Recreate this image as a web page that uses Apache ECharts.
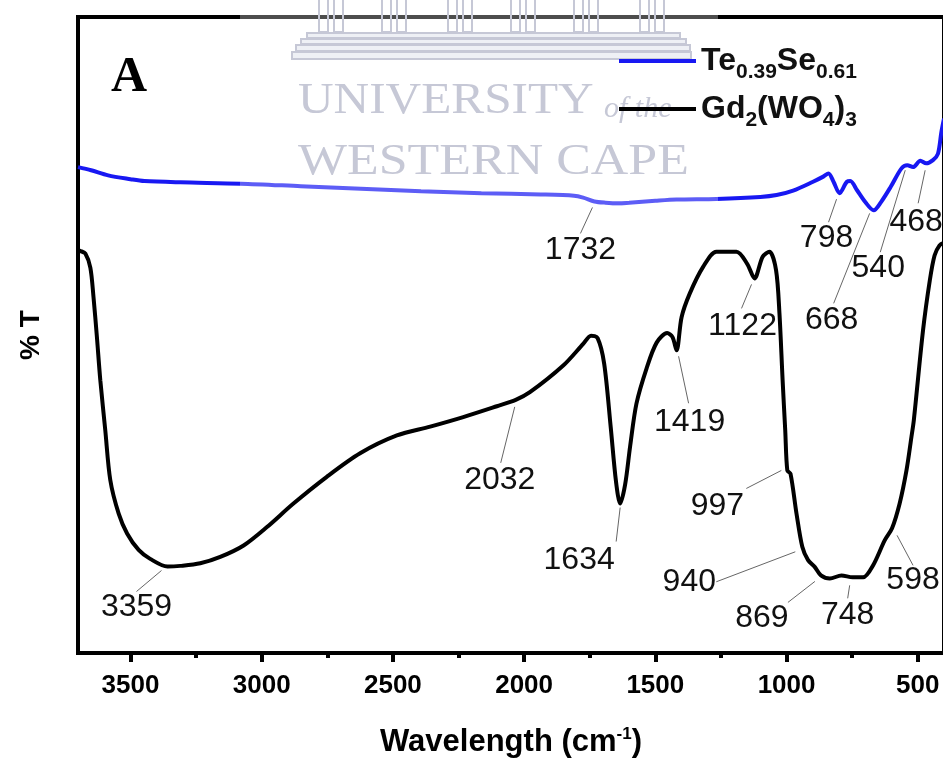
<!DOCTYPE html>
<html>
<head>
<meta charset="utf-8">
<script src="https://cdn.jsdelivr.net/npm/echarts@6/dist/echarts.min.js"></script>
<style>
  html, body { margin: 0; padding: 0; background: #fff; }
  #chart { width: 943px; height: 758px; }
</style>
</head>
<body>
<div id="chart"></div>
<script>
// FTIR spectra: wavenumber (cm-1) vs transmittance (arbitrary %T scale)
const seriesNames = ['Te0.39Se0.61', 'Gd2(WO4)3'];

const blueWn = [3700,3650,3585,3500,3447,3310,3080,2851,2622,2393,2163,1936,1810,1775,1732,1690,1640,1600,1500,1419,1267,1100,1038,975,899,860,840,821,798,770,757,732,700,668,640,603,562,540,518,490,468,442,423,410,400];
const blueT  = [76.4,75.9,75.1,74.5,74.2,74.0,73.8,73.4,73.0,72.6,72.3,72.1,71.9,71.6,71.0,70.8,70.7,70.8,71.1,71.3,71.4,71.7,72.0,72.7,74.1,74.9,75.4,74.1,72.3,74.1,74.2,72.8,70.9,69.6,70.9,73.3,76.2,76.7,76.4,77.4,77.0,77.5,78.5,81.9,84.0];

const blackWn = [3700,3690,3672,3653,3641,3628,3615,3596,3577,3545,3513,3469,3425,3359,3310,3234,3158,3069,2980,2879,2752,2625,2485,2358,2232,2104,2032,1978,1851,1775,1745,1720,1695,1670,1650,1634,1615,1596,1572,1533,1495,1455,1435,1419,1400,1369,1318,1267,1191,1150,1122,1091,1065,1040,1027,1015,1005,997,985,962,940,918,892,869,835,791,748,708,670,626,598,569,543,524,515,480,454,436,417,400];
const blackT  = [63.3,63.2,62.8,60.6,56.0,49.7,42.9,35.0,27.2,21.9,18.8,16.2,14.8,13.6,13.7,14.1,15.1,16.9,19.8,23.5,27.7,31.4,34.2,35.6,37.1,38.8,39.8,41.0,45.2,48.6,49.9,49.5,45.5,35.5,27.0,23.5,26.5,32.5,39.2,44.8,48.8,50.3,49.7,47.6,52.8,56.5,60.7,63.1,63.1,61.2,58.9,62.3,63.1,60.2,53.4,42.9,35.0,28.7,28.2,21.9,16.7,14.6,13.5,12.2,11.7,12.2,11.9,11.9,13.8,17.7,19.6,23.5,28.7,34.0,36.6,50.7,58.6,62.5,64.1,64.5];

const majorTicks = [500, 1000, 1500, 2000, 2500, 3000, 3500];
const minorTicks = [750, 1250, 1750, 2250, 2750, 3250];

// peak assignments for each spectrum
const bluePeaks  = [1732, 798, 668, 540, 468];
const blackPeaks = [3359, 2032, 1634, 1419, 1122, 997, 940, 869, 748, 598];

// label placement relative to the peak point: [textDx, textDy, lineX1, lineY1, lineX2, lineY2]
const blueLayout = [
  [-14, 49, -2, 6, -14, 32],
  [-13, 45, -3, 6, -11, 29],
  [-42, 110, -4, 3, -40, 93],
  [-29, 103, -2, 5, -27, 87],
  [-10, 59, -1, 7, -8, 40]
];
const blackLayout = [
  [-31, 41, -6, 4, -31, 25],
  [-16, 80, -1, 7, -15, 63],
  [-41, 57, 0, 4, -4, 38],
  [13, 72, 2, 6, 12, 53],
  [-12, 48, -3, 6, -13, 30],
  [-70, 36, -6, 0, -41, 18],
  [-113, 35, -7, 5, -86, 35],
  [-59, 43, -6, 6, -33, 27],
  [-5, 38, -3, 8, -5, 21],
  [21, 52, 5, 7, 21, 37]
];

const zip = (xs, ys) => xs.map((x, i) => [x, ys[i]]);
const FONT = '"Liberation Sans", Arial, sans-serif';
const SERIF = '"Liberation Serif", "Times New Roman", serif';

const chart = echarts.init(document.getElementById('chart'), null, { renderer: 'canvas' });

const option = {
  animation: false,
  backgroundColor: '#fff',
  grid: {
    left: 78, top: 17, width: 866, height: 636,
    outerBoundsMode: 'none', containLabel: false,
    show: true, borderColor: '#000', borderWidth: 4, backgroundColor: 'transparent'
  },
  xAxis: [
    {
      type: 'value', min: 400, max: 3700, inverse: true, position: 'bottom',
      axisLine: { show: true, lineStyle: { color: '#000', width: 4 } },
      axisTick: { show: true, customValues: majorTicks, length: 9, inside: false, lineStyle: { color: '#000', width: 4 } },
      axisLabel: {
        customValues: majorTicks, formatter: v => String(v),
        color: '#000', fontSize: 26, fontWeight: 'bold', fontFamily: FONT, margin: 20
      },
      splitLine: { show: false },
      name: '{t|Wavelength (cm}{sup|-1}{t|)}',
      nameLocation: 'middle', nameGap: 73,
      nameTextStyle: {
        rich: {
          t: { fontSize: 31, fontWeight: 'bold', fontFamily: FONT, color: '#000', lineHeight: 32 },
          sup: { fontSize: 17, fontWeight: 'bold', fontFamily: FONT, color: '#000', lineHeight: 17, verticalAlign: 'top' }
        }
      }
    },
    {
      type: 'value', min: 400, max: 3700, inverse: true, position: 'bottom', offset: 0,
      axisLine: { show: false },
      axisTick: { show: true, customValues: minorTicks, length: 5, lineStyle: { color: '#000', width: 4 } },
      axisLabel: { show: false },
      splitLine: { show: false }
    }
  ],
  yAxis: {
    type: 'value', min: 0, max: 100,
    axisLine: { show: true, lineStyle: { color: '#000', width: 4 } },
    axisTick: { show: false },
    axisLabel: { show: false },
    splitLine: { show: false },
    name: '% T', nameLocation: 'middle', nameGap: 33,
    nameTextStyle: { fontSize: 28, fontWeight: 'bold', fontFamily: FONT, color: '#000' }
  },
  legend: {
    orient: 'vertical', left: 614, top: 40, z: 10,
    itemWidth: 77, itemHeight: 4, itemGap: 10,
    icon: 'rect',
    data: seriesNames,
    formatter: function (name) {
      return name === seriesNames[0]
        ? '{m|Te}{s|0.39}{m|Se}{s|0.61}'
        : '{m|Gd}{s|2}{m|(WO}{s|4}{m|)}{s|3}';
    },
    textStyle: {
      rich: {
        m: { fontSize: 32, fontWeight: 'bold', fontFamily: FONT, color: '#111', lineHeight: 44 },
        s: { fontSize: 21, fontWeight: 'bold', fontFamily: FONT, color: '#111', lineHeight: 21, verticalAlign: 'bottom' }
      }
    }
  },
  series: [
    {
      name: seriesNames[0], type: 'line', data: zip(blueWn, blueT),
      symbol: 'none', showSymbol: false, smooth: 0.3, z: 3,
      itemStyle: { color: '#1818f2' },
      lineStyle: { color: '#1818f2', width: 4 }
    },
    {
      name: seriesNames[1], type: 'line', data: zip(blackWn, blackT),
      symbol: 'none', showSymbol: false, smooth: 0.3, z: 3,
      itemStyle: { color: '#000' },
      lineStyle: { color: '#000', width: 4 }
    }
  ]
};

chart.setOption(option);

// linear read-out of a spectrum at a given wavenumber
function valueAt(wns, ts, w) {
  for (let i = 0; i < wns.length - 1; i++) {
    const a = wns[i], b = wns[i + 1];
    if (w <= a && w >= b) {
      const f = (a - w) / (a - b);
      return ts[i] + (ts[i + 1] - ts[i]) * f;
    }
  }
  return ts[ts.length - 1];
}

const graphics = [];

function addPeakLabels(peaks, layout, wns, ts) {
  peaks.forEach((w, i) => {
    const p = chart.convertToPixel({ xAxisIndex: 0, yAxisIndex: 0 }, [w, valueAt(wns, ts, w)]);
    const L = layout[i];
    graphics.push({
      type: 'line', z: 4, silent: true,
      shape: { x1: p[0] + L[2], y1: p[1] + L[3], x2: p[0] + L[4], y2: p[1] + L[5] },
      style: { stroke: '#666', lineWidth: 1 }
    });
    graphics.push({
      type: 'text', z: 4, silent: true,
      x: p[0] + L[0], y: p[1] + L[1],
      style: { text: String(w), font: '32px ' + FONT, fill: '#111', align: 'center', verticalAlign: 'middle' }
    });
  });
}
addPeakLabels(bluePeaks, blueLayout, blueWn, blueT);
addPeakLabels(blackPeaks, blackLayout, blackWn, blackT);

// panel letter
graphics.push({
  type: 'text', z: 10, x: 129, y: 78,
  style: { text: 'A', font: 'bold 50px ' + SERIF, fill: '#000', align: 'center', verticalAlign: 'middle' }
});

// faded university watermark across the top of the panel
const WM = '#c6c8d6';
graphics.push({
  type: 'rect', z: 5, silent: true,
  shape: { x: 240, y: 0, width: 478, height: 205 },
  style: { fill: 'rgba(255,255,255,0.3)' }
});
[319, 382, 448, 511, 574, 640].forEach(x0 => {
  graphics.push({ type: 'rect', z: 6, silent: true, shape: { x: x0, y: -2, width: 9, height: 34 }, style: { fill: 'none', stroke: WM, lineWidth: 2 } });
  graphics.push({ type: 'rect', z: 6, silent: true, shape: { x: x0 + 15, y: -2, width: 9, height: 34 }, style: { fill: 'none', stroke: WM, lineWidth: 2 } });
});
[[307, 33, 373, 5], [301, 39, 385, 5], [296, 45, 394, 6], [292, 52, 399, 7]].forEach(r => {
  graphics.push({ type: 'rect', z: 6, silent: true, shape: { x: r[0], y: r[1], width: r[2], height: r[3] }, style: { fill: '#eef0f5', stroke: WM, lineWidth: 2 } });
});
graphics.push({
  type: 'text', z: 6, silent: true, x: 298, y: 123, scaleX: 1.12,
  style: { text: 'UNIVERSITY', font: '44px ' + SERIF, fill: WM, align: 'left', verticalAlign: 'bottom' }
});
graphics.push({
  type: 'text', z: 6, silent: true, x: 604, y: 124,
  style: { text: 'of the', font: 'italic 30px ' + SERIF, fill: WM, align: 'left', verticalAlign: 'bottom' }
});
graphics.push({
  type: 'text', z: 6, silent: true, x: 298, y: 184, scaleX: 1.18,
  style: { text: 'WESTERN CAPE', font: '44px ' + SERIF, fill: WM, align: 'left', verticalAlign: 'bottom' }
});

chart.setOption({ graphic: graphics });
</script>
</body>
</html>
